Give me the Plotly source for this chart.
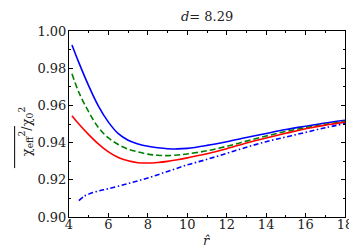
import plotly.graph_objects as go

x_main = [4.15, 4.5, 5.0, 5.5, 6.0, 6.5, 7.0, 7.5, 8.0, 8.5, 9.0, 9.5, 10, 11, 12, 13, 14, 15, 16, 17, 18]
blue_solid = [0.9925, 0.983, 0.9705, 0.9595, 0.951, 0.9448, 0.9413, 0.9393, 0.938, 0.9372, 0.9367, 0.9366, 0.9369,
              0.9385, 0.9405, 0.9427, 0.9449, 0.947, 0.9488, 0.9505, 0.952]
green_dash = [0.977, 0.967, 0.9565, 0.948, 0.9425, 0.939, 0.9365, 0.935, 0.9338, 0.9332, 0.933, 0.9333, 0.9339,
              0.9356, 0.938, 0.9408, 0.9435, 0.946, 0.948, 0.9498, 0.9515]
red_solid = [0.9545, 0.950, 0.9443, 0.9392, 0.935, 0.932, 0.9302, 0.9292, 0.929, 0.9293, 0.9299, 0.9308, 0.9318,
             0.934, 0.9367, 0.9398, 0.9425, 0.945, 0.9474, 0.9494, 0.951]
x_dd = [4.5, 4.75, 5.0, 5.5, 6.0, 7.0, 8.0, 9.0, 10, 11, 12, 13, 14, 15, 16, 17, 18]
blue_dashdot = [0.9088, 0.911, 0.9123, 0.914, 0.9152, 0.918, 0.921, 0.9245, 0.928, 0.931, 0.9342, 0.9375,
                0.9405, 0.943, 0.9455, 0.948, 0.9502]

x_ticks = [4, 6, 8, 10, 12, 14, 16, 18]
y_ticks = [0.90, 0.92, 0.94, 0.96, 0.98, 1.00]
title_text = "<i>d</i>= 8.29"

FONT = "DejaVu Serif"

fig = go.Figure()
fig.add_trace(go.Scatter(x=x_main, y=blue_solid, mode="lines", line=dict(color="#0000ff", width=1.6, shape="spline")))
fig.add_trace(go.Scatter(x=x_main, y=green_dash, mode="lines", line=dict(color="#008000", width=1.6, dash="6px,3px", shape="spline")))
fig.add_trace(go.Scatter(x=x_main, y=red_solid, mode="lines", line=dict(color="#ff0000", width=1.6, shape="spline")))
fig.add_trace(go.Scatter(x=x_dd, y=blue_dashdot, mode="lines", line=dict(color="#0000ff", width=1.6, dash="5px,2.5px,1.5px,2.5px", shape="spline")))

axis_common = dict(showgrid=False, zeroline=False, showline=True, linecolor="black", linewidth=1,
                   mirror="allticks", ticks="inside", ticklen=4, tickwidth=1, tickcolor="black",
                   tickfont=dict(family=FONT, size=13, color="#222"))

fig.update_xaxes(range=[4, 18], tickvals=x_ticks, ticktext=[str(v) for v in x_ticks], ticklabelstandoff=-5,
                 minor=dict(dtick=1, ticks="inside", ticklen=2, tickcolor="black"), **axis_common)
fig.update_yaxes(range=[0.90, 1.00], tickvals=y_ticks, ticktext=[f"{v:.2f}" for v in y_ticks], ticklabelstandoff=-1,
                 minor=dict(dtick=0.01, ticks="inside", ticklen=2, tickcolor="black"), **axis_common)

fig.update_layout(width=357, height=250, margin=dict(l=61, r=12, t=23, b=41),
                  plot_bgcolor="white", paper_bgcolor="white", showlegend=False,
                  font=dict(family=FONT, color="#222"))

fig.add_annotation(text=title_text, xref="paper", yref="paper", x=0.5, y=1.0, xanchor="center", yanchor="bottom",
                   yshift=5, showarrow=False, font=dict(family=FONT, size=13))
fig.add_annotation(text="<i>r̂</i>", xref="paper", yref="paper", x=0.5, y=0, xanchor="center", yanchor="top",
                   yshift=-14, showarrow=False, font=dict(family=FONT, size=13))
fig.add_annotation(text="χ<sub>eff</sub><sup>2</sup>/χ<sub>0</sub><sup>2</sup>", xref="paper", yref="paper",
                   x=-0.155, y=0.457, xanchor="center", yanchor="middle", textangle=-90,
                   showarrow=False, font=dict(family=FONT, size=13))
fig.add_shape(type="line", xref="paper", yref="paper", x0=-0.197, x1=-0.197, y0=0.263, y1=0.489,
              line=dict(color="black", width=1))

fig.write_html("out.html")
